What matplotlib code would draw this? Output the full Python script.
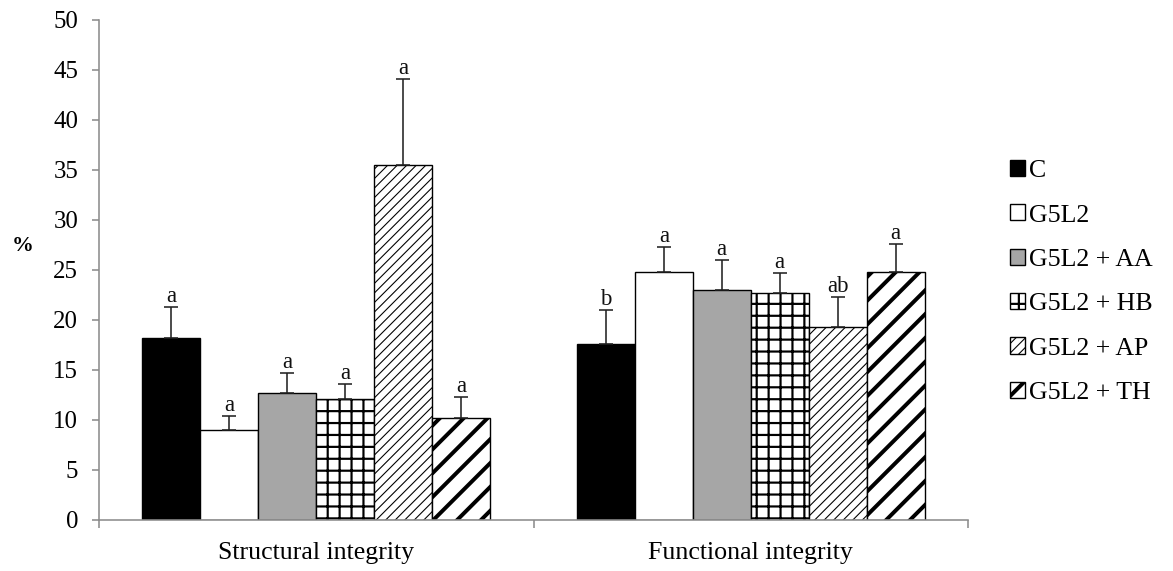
import matplotlib
matplotlib.use('Agg')
import matplotlib.pyplot as plt
import numpy as np

# ---------------- data ----------------
groups = ['Structural integrity', 'Functional integrity']
series = ['C', 'G5L2', 'G5L2 + AA', 'G5L2 + HB', 'G5L2 + AP', 'G5L2 + TH']

c_vals = [18.2, 17.6]
g5l2_vals = [9.0, 24.8]
aa_vals = [12.7, 23.0]
hb_vals = [12.1, 22.7]
ap_vals = [35.5, 19.3]
th_vals = [10.2, 24.8]

c_err = [3.1, 3.4]
g5l2_err = [1.4, 2.5]
aa_err = [2.0, 3.0]
hb_err = [1.5, 2.0]
ap_err = [8.6, 3.0]
th_err = [2.1, 2.8]

c_let = ['a', 'b']
g5l2_let = ['a', 'a']
aa_let = ['a', 'a']
hb_let = ['a', 'a']
ap_let = ['a', 'ab']
th_let = ['a', 'a']

yticks = [0, 5, 10, 15, 20, 25, 30, 35, 40, 45, 50]

values = [c_vals, g5l2_vals, aa_vals, hb_vals, ap_vals, th_vals]
errors = [c_err, g5l2_err, aa_err, hb_err, ap_err, th_err]
letters = [c_let, g5l2_let, aa_let, hb_let, ap_let, th_let]

# ---------------- style ----------------
DPI = 143
W, H = 1173, 571
plt.rcParams['font.family'] = ['Liberation Serif', 'DejaVu Serif']

facecolors = ['black', 'white', '#a6a6a6', 'white', 'white', 'white']
hatches = [None, None, None, '++', '/////', '//']
hatch_lw = [0.5, 0.5, 0.5, 1.1, 0.55, 2.0]
axis_grey = '#8c8c8c'

fig = plt.figure(figsize=(W / DPI, H / DPI), dpi=DPI)
ax = fig.add_axes([99 / W, 1 - 520 / H, (968 - 99) / W, 500 / H])

x = np.arange(len(groups))
n = len(series)
width = 0.8 / n

handles = []
for i, (name, vals, errs, lets) in enumerate(zip(series, values, errors, letters)):
    pos = x - 0.4 + width * (i + 0.5)
    bars = ax.bar(pos, vals, width, color=facecolors[i], edgecolor='black',
                  linewidth=0.7, hatch=hatches[i], label=name, zorder=2)
    for b in bars:
        if hasattr(b, 'set_hatch_linewidth'):
            b.set_hatch_linewidth(hatch_lw[i])
    ax.errorbar(pos, vals, yerr=[np.zeros(len(vals)), errs], fmt='none',
                ecolor='#222222', elinewidth=0.8, capsize=3.5, capthick=0.8,
                zorder=3)
    for p, v, e, l in zip(pos, vals, errs, lets):
        ax.text(p, v + e + 0.02, l, ha='center', va='bottom', fontsize=11.5,
                color='#111111')
    handles.append(bars)

ax.set_xlim(-0.5, len(groups) - 0.5)
ax.set_ylim(0, 50)
ax.set_yticks(yticks)
ax.set_xticks(x)
ax.set_xticklabels(groups, fontsize=13)
ax.set_xticks(np.arange(len(groups) + 1) - 0.5, minor=True)

for s in ['top', 'right']:
    ax.spines[s].set_visible(False)
for s in ['left', 'bottom']:
    ax.spines[s].set_color(axis_grey)
    ax.spines[s].set_linewidth(0.8)

ax.tick_params(axis='y', direction='out', length=3.5, width=0.8, color=axis_grey,
               labelsize=12.5, pad=7)
ax.tick_params(axis='x', which='major', length=0, pad=11)
ax.tick_params(axis='x', which='minor', direction='out', length=4, width=0.8,
               color=axis_grey)

fig.text(23 / W, 1 - 246 / H, '%', ha='center', va='center', fontsize=11,
         fontweight='bold')

leg = fig.legend(handles, series, loc='center left',
                 bbox_to_anchor=(1010 / W, 1 - 282 / H), frameon=False,
                 fontsize=13, handlelength=0.58, handleheight=0.58,
                 handletextpad=0.15, labelspacing=0.86, borderpad=0,
                 borderaxespad=0)
for p, lw in zip(leg.get_patches(), hatch_lw):
    if hasattr(p, 'set_hatch_linewidth'):
        p.set_hatch_linewidth(lw)

fig.savefig('out.png', dpi=DPI, facecolor='white')
